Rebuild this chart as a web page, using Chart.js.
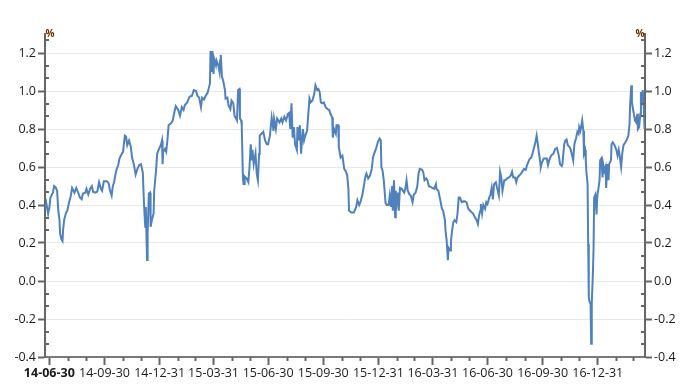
<!DOCTYPE html>
<html><head><meta charset="utf-8">
<script src="https://cdn.jsdelivr.net/npm/chart.js@4/dist/chart.umd.min.js"></script>
<style>html,body{margin:0;padding:0;background:#fff;}canvas{display:block;}</style>
</head><body>
<canvas id="c" width="691" height="389"></canvas>
<script>
// x values: days since startDate
const startDate = '2014-06-30';
const daysSinceStart = [
 -7,-5,-2,0,2,6,8,11,13,15,
 17,18,20,22,23,25,28,30,33,36,
 38,42,45,47,51,54,56,60,62,65,
 68,71,73,77,80,83,86,88,91,96,
 99,101,104,106,108,110,112,115,117,121,
 123,126,128,130,133,136,138,141,144,147,
 150,153,156,157,158,160,161,163,164,166,
 168,169,171,174,175,178,180,183,186,188,
 189,190,193,195,197,199,203,206,208,211,
 215,218,221,224,226,230,234,238,241,245,
 247,250,253,255,258,261,264,266,268,269,
 271,272,274,275,278,279,282,284,285,286,
 288,290,293,294,297,299,302,304,307,309,
 313,315,317,318,320,321,323,324,325,326,
 329,332,334,336,338,339,341,344,346,348,
 350,351,354,357,360,363,365,368,371,374,
 375,378,380,384,387,389,392,395,398,400,
 402,404,406,408,410,413,414,416,418,420,
 423,425,427,430,434,436,439,442,444,447,
 449,451,453,455,458,461,464,467,469,472,
 473,475,478,479,482,483,486,489,492,495,
 497,499,500,504,508,512,514,517,519,522,
 524,527,529,532,535,538,540,542,545,548,
 551,553,554,556,558,561,563,566,568,570,
 572,573,575,577,578,580,582,583,585,588,
 592,594,596,598,601,603,606,608,611,614,
 616,618,622,624,626,629,631,633,636,639,
 642,645,646,649,652,655,657,660,661,663,
 665,666,669,670,672,674,676,679,681,683,
 685,688,692,696,699,702,705,707,710,713,
 715,717,719,720,722,724,727,729,731,734,
 736,738,740,742,745,747,750,752,754,756,
 759,761,764,767,770,772,774,777,779,781,
 784,787,790,792,795,797,801,804,806,809,
 811,813,815,817,819,820,822,825,830,832,
 834,837,841,844,847,850,852,855,856,859,
 861,863,865,868,870,873,874,876,879,881,
 883,884,886,888,889,891,892,894,895,896,
 898,899,900,901,903,904,905,907,908,909,
 911,913,914,916,918,919,921,923,924,926,
 928,929,931,933,934,937,938,940,943,946,
 948,950,952,954,956,958,961,963,966,968,
 969,971,972,974,976,977,979,981,982,984,
 986,987,989,990,992,993
];
const values = [
 0.38,0.41,0.355,0.385,0.44,0.465,0.50,0.49,0.475,0.37,
 0.32,0.25,0.22,0.21,0.27,0.325,0.36,0.37,0.415,0.45,
 0.49,0.465,0.49,0.475,0.44,0.43,0.46,0.465,0.485,0.455,
 0.485,0.50,0.47,0.465,0.47,0.52,0.485,0.475,0.525,0.525,
 0.515,0.48,0.45,0.50,0.52,0.555,0.585,0.61,0.645,0.67,
 0.68,0.765,0.76,0.715,0.74,0.705,0.65,0.615,0.56,0.59,
 0.61,0.615,0.57,0.485,0.405,0.285,0.39,0.11,0.25,0.46,
 0.465,0.285,0.32,0.355,0.475,0.58,0.67,0.695,0.715,0.74,
 0.615,0.68,0.695,0.68,0.74,0.82,0.83,0.845,0.88,0.92,
 0.90,0.87,0.915,0.90,0.925,0.94,0.97,0.975,1.005,1.00,
 0.975,0.965,0.915,0.965,0.955,0.975,0.99,1.015,1.04,1.21,
 1.10,1.21,1.09,1.17,1.135,1.16,1.135,1.10,1.16,1.19,
 1.075,1.055,1.005,0.96,0.965,0.925,0.905,0.95,0.935,0.87,
 0.845,1.005,1.01,0.855,0.845,0.82,0.545,0.51,0.51,0.55,
 0.54,0.52,0.60,0.72,0.635,0.69,0.615,0.67,0.565,0.53,
 0.67,0.765,0.775,0.785,0.74,0.72,0.72,0.765,0.86,0.79,
 0.855,0.80,0.855,0.835,0.855,0.835,0.865,0.845,0.88,0.885,
 0.80,0.935,0.755,0.81,0.72,0.69,0.81,0.74,0.82,0.67,
 0.80,0.74,0.765,0.79,0.96,0.94,0.95,0.985,1.03,1.005,
 1.01,0.995,0.94,0.935,0.94,0.915,0.905,0.90,0.88,0.86,
 0.755,0.80,0.775,0.82,0.82,0.705,0.65,0.66,0.59,0.575,
 0.555,0.485,0.37,0.36,0.36,0.39,0.425,0.40,0.415,0.45,
 0.485,0.545,0.565,0.54,0.555,0.59,0.65,0.67,0.695,0.73,
 0.75,0.74,0.60,0.58,0.53,0.41,0.40,0.40,0.45,0.39,
 0.50,0.37,0.53,0.335,0.475,0.415,0.465,0.37,0.49,0.485,
 0.465,0.485,0.53,0.475,0.455,0.45,0.415,0.455,0.465,0.50,
 0.565,0.59,0.585,0.57,0.53,0.54,0.53,0.50,0.495,0.49,
 0.485,0.51,0.485,0.475,0.43,0.38,0.37,0.32,0.265,0.21,
 0.11,0.175,0.16,0.21,0.265,0.31,0.32,0.31,0.355,0.44,
 0.44,0.415,0.42,0.415,0.38,0.37,0.36,0.355,0.335,0.32,
 0.30,0.345,0.37,0.405,0.355,0.40,0.38,0.415,0.405,0.44,
 0.455,0.49,0.43,0.51,0.52,0.49,0.45,0.575,0.545,0.475,
 0.53,0.53,0.54,0.545,0.555,0.575,0.545,0.545,0.52,0.545,
 0.555,0.565,0.58,0.59,0.585,0.61,0.64,0.65,0.67,0.705,
 0.73,0.765,0.72,0.67,0.625,0.60,0.625,0.645,0.645,0.61,
 0.635,0.66,0.67,0.695,0.70,0.66,0.615,0.605,0.615,0.72,
 0.74,0.745,0.715,0.705,0.69,0.65,0.635,0.72,0.755,0.785,
 0.775,0.81,0.79,0.825,0.845,0.79,0.67,0.69,0.635,0.575,
 0.51,0.195,-0.085,-0.105,-0.12,-0.33,-0.12,0.055,0.175,0.44,
 0.455,0.35,0.44,0.485,0.53,0.635,0.645,0.545,0.615,0.58,
 0.60,0.49,0.615,0.53,0.615,0.635,0.72,0.73,0.715,0.69,
 0.66,0.69,0.65,0.60,0.675,0.715,0.73,0.74,0.765,0.825,
 0.93,1.03,0.94,0.90,0.865,0.845,0.835,0.88,0.80,0.81,
 0.88,0.995,0.935,1.005,0.90,0.80
];
const quarterLabels = ['14-06-30','14-09-30','14-12-31','15-03-31','15-06-30','15-09-30','15-12-31','16-03-31','16-06-30','16-09-30','16-12-31'];
const yMajorTicks = [-0.4,-0.2,0.0,0.2,0.4,0.6,0.8,1.0,1.2];
const unitLabel = '%';

const base = Date.UTC(2014,5,30);
function dayOf(label){ const p = label.split('-').map(Number); return Math.round((Date.UTC(2000+p[0],p[1]-1,p[2])-base)/86400000); }
const quarterDays = quarterLabels.map(dayOf);
const monthEndDays = [];
for (let y=2014;y<=2017;y++) for (let m=0;m<12;m++){
  const t = Math.round((Date.UTC(y,m+1,1)-86400000-base)/86400000);
  if (t>-7 && t<994 && !quarterDays.includes(t)) monthEndDays.push(t);
}

const AX = '#666666';
const minorPlugin = {
  id:'minor',
  afterDraw(chart){
    const {ctx} = chart; const x=chart.scales.x, y=chart.scales.y, y2=chart.scales.y2;
    ctx.save();
    ctx.strokeStyle=AX; ctx.lineWidth=2; ctx.beginPath();
    for(let k=0;k<=25;k++){
      if(k%3===0) continue;
      const v=-0.4+k*0.2/3; const py=Math.round(y.getPixelForValue(v));
      ctx.moveTo(y.right, py); ctx.lineTo(y.right+4, py);
      ctx.moveTo(y2.left-4, py); ctx.lineTo(y2.left, py);
    }
    monthEndDays.forEach(d=>{ const px=Math.round(x.getPixelForValue(d))+0.5; ctx.moveTo(px, x.top); ctx.lineTo(px, x.top+4); });
    ctx.stroke();
    ctx.fillStyle='#6e2a00'; ctx.font='bold 10px "Open Sans"'; ctx.textAlign='center'; ctx.textBaseline='middle';
    ctx.fillText(unitLabel, y.right+5, y.top);
    ctx.fillText(unitLabel, y2.left-5, y.top);
    ctx.restore();
  }
};

const yCommon = {
  min:-0.4, max:1.3,
  afterBuildTicks:s=>{ s.ticks = yMajorTicks.map(v=>({value:v})); },
  ticks:{padding:2, color:'#1a1a1a', font:{family:'Open Sans', size:12.5}, callback:v=>Number(v).toFixed(1)},
  border:{display:true, color:AX, width:2}
};

new Chart(document.getElementById('c'), {
  type:'line',
  data:{datasets:[{data:daysSinceStart.map((d,i)=>({x:d,y:values[i]})), borderColor:'#4f81bd', borderWidth:2, pointRadius:0, tension:0, fill:false}]},
  options:{
    responsive:false, animation:false, events:[],
    layout:{padding:{top:34,left:0,right:0,bottom:0}},
    plugins:{legend:{display:false}, tooltip:{enabled:false}},
    scales:{
      x:{type:'linear', min:-7.2, max:993.8,
        afterBuildTicks:s=>{ s.ticks = quarterDays.map(v=>({value:v})); },
        afterFit:s=>{ s.height=32; },
        ticks:{autoSkip:false, maxRotation:0, padding:1, color:'#1a1a1a',
          font:c=>({family:'Open Sans', size:12.5, weight:c.index===0?'bold':'normal'}),
          callback:(v,i)=>quarterLabels[i]},
        grid:{drawOnChartArea:false, tickLength:8, tickColor:AX, tickWidth:2},
        border:{display:true, color:'#7a7a7a', width:2}},
      y:Object.assign({}, yCommon, {position:'left', afterFit:s=>{ s.width=45; },
        grid:{color:'#e8e8e8', lineWidth:1, tickLength:7, tickColor:AX, tickWidth:2}}),
      y2:Object.assign({}, yCommon, {position:'right', afterFit:s=>{ s.width=46; },
        grid:{drawOnChartArea:false, tickLength:7, tickColor:AX, tickWidth:2}})
    }
  },
  plugins:[minorPlugin]
});
</script>
</body></html>
